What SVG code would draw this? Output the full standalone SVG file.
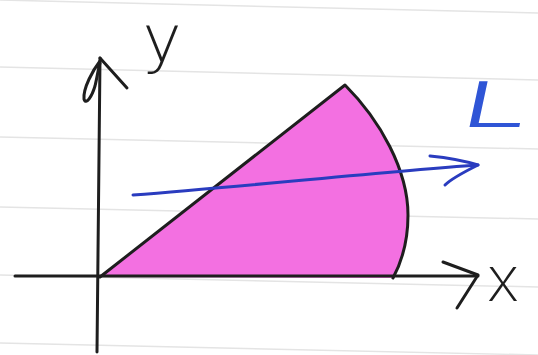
<svg xmlns="http://www.w3.org/2000/svg" width="538" height="355" viewBox="0 0 538 355">
<style>
.paper{stroke:#e4e4e4;stroke-width:1.5;fill:none}
.ink{stroke:#1e1e1e;stroke-width:3;fill:none;stroke-linecap:round;stroke-linejoin:round}
.blue{stroke:#2a3cbf;stroke-width:3;fill:none;stroke-linecap:round;stroke-linejoin:round}
.lbl{font-family:"Inter","Liberation Sans",sans-serif;font-weight:200;fill:#1e1e1e}
</style>
<rect width="538" height="355" fill="#ffffff"/>
<g id="paper">
<line class="paper" x1="0" y1="0" x2="538" y2="13"/>
<line class="paper" x1="0" y1="67" x2="538" y2="80"/>
<line class="paper" x1="0" y1="137" x2="538" y2="149"/>
<line class="paper" x1="0" y1="207" x2="538" y2="219"/>
<line class="paper" x1="0" y1="275" x2="538" y2="287"/>
<line class="paper" x1="0" y1="343" x2="538" y2="355"/>
</g>
<g id="region">
<path d="M100,277 L345,85 C380,120 408,170 408,215 C408,245 400,265 393,278 Z" fill="#f370e1" stroke="none"/>
<path class="ink" d="M100,277 L345,85 C380,120 408,170 408,215 C408,245 400,265 393,278"/>
</g>
<g id="connectors">
<g id="y-axis">
<path class="ink" d="M97,352 L100,58"/>
<path class="ink" d="M100,58 L127,88"/>
<path class="ink" d="M100,61 C93,70 83,88 84,99 C86,106 92,96 95,86 C97,78 98,70 100,63"/>
</g>
<g id="x-axis">
<path class="ink" d="M15,276 L478,276"/>
<path class="ink" d="M443,262 L478,275 L457,308"/>
</g>
<g id="line-L">
<path class="blue" d="M133,195 C250,186 380,172 478,165"/>
<path class="blue" d="M430,156 C450,158 465,161 478,165 C466,171 452,178 445,185"/>
</g>
</g>
<g id="label-y">
<text x="162" y="62" font-family="'DejaVu Sans', sans-serif" font-weight="200" font-size="66" fill="#1e1e1e" text-anchor="middle">y</text>
</g>
<g id="label-x">
<text class="lbl" x="503" y="301" font-size="62" text-anchor="middle">x</text>
</g>
<g id="label-L">
<text x="0" y="0" font-family="Inter, 'Liberation Sans', sans-serif" font-weight="300" font-size="63" fill="#2f55d6" transform="translate(458,127) skewX(-12) scale(1.9,1)">L</text>
</g>
</svg>
